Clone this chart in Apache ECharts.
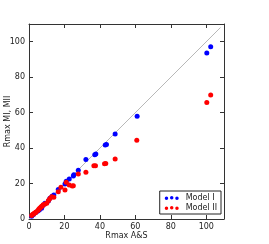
<!DOCTYPE html>
<html><head><meta charset="utf-8">
<script src="https://cdn.jsdelivr.net/npm/echarts@6/dist/echarts.min.js"></script>
<style>html,body{margin:0;padding:0;background:#fff}#c{width:269px;height:244px}</style>
</head><body><div id="c"></div>
<script>
const xTicks = [0, 20, 40, 60, 80, 100];
const yTicks = [0, 20, 40, 60, 80, 100];
const modelI = [
  [1.5,1.5],[2.5,2.5],[4,3.8],[5,4.5],[5.8,5.1],[7.1,6],[8,7.8],[9,8.9],[10.9,10.2],[11.8,11.7],
  [13,12.8],[14,13.6],[16.5,16.6],[20.3,19.8],[21,21.3],[22.7,22.6],[25,24.3],[25.3,25],
  [27.8,27.5],[32.1,33.5],[37.1,36.2],[37.7,36.7],[43,41.8],[43.7,42],[48.6,48],[61,58],
  [100.3,93.7],[102.5,97.1]
];
const modelII = [
  [1.5,2],[2,2.5],[2.5,2.8],[3,3.2],[3.5,3.5],[4,4],[5,4.8],[5.5,5.5],[6,6],[6.5,6.5],[7,7],
  [7.5,7.3],[8,8],[9,8.5],[10,8.9],[11,10.5],[11.8,11.5],[12.8,12.6],[14,12.2],[16.5,15.4],
  [18,17.9],[20.3,16.4],[21,20.7],[22.7,19.2],[24.4,18.6],[25,18.8],[27.8,25.4],[32.1,26.4],
  [36.6,30.1],[37.5,30.1],[42.6,31.1],[43.3,31.3],[48.6,33.9],[60.8,44.4],[100.3,65.7],[102.5,69.9]
];
const diagonal = [[0,0],[108,108]];
const dots = 'path://M0,3a2,2 0 1,0 4,0a2,2 0 1,0 -4,0M6,2.4a2,2 0 1,0 4,0a2,2 0 1,0 -4,0M12,3.2a2,2 0 1,0 4,0a2,2 0 1,0 -4,0';
const font = 'DejaVu Sans';
const ax = (pos, show, extra) => Object.assign({
  type: 'value', min: 0, max: 110, interval: 20, position: pos,
  axisLine: {show: true, onZero: false, lineStyle: {color: '#333', width: 1}},
  axisTick: {show: true, inside: true, length: 4, lineStyle: {color: '#333'}},
  axisLabel: {show: show, color: '#222', fontSize: 8, fontFamily: font, margin: 4,
    showMaxLabel: false, formatter: v => (v % 20 === 0 && v <= 100) ? String(v) : ''},
  splitLine: {show: false}
}, extra || {});
const chart = echarts.init(document.getElementById('c'));
chart.setOption({
  animation: false,
  grid: {left: 29, top: 24, right: 45, bottom: 25, containLabel: false, outerBoundsMode: 'none'},
  xAxis: [
    ax('bottom', true, {name: 'Rmax A&S', nameLocation: 'middle', nameGap: 13, nameMoveOverlap: false,
      nameTextStyle: {fontSize: 8, fontFamily: font, color: '#222'}}),
    ax('top', false)
  ],
  yAxis: [
    ax('left', true, {name: 'Rmax MI, MII', nameLocation: 'middle', nameGap: 17, nameMoveOverlap: false,
      nameTextStyle: {fontSize: 8, fontFamily: font, color: '#222'}}),
    ax('right', false)
  ],
  legend: {
    right: 48, bottom: 30, orient: 'vertical', itemWidth: 14, itemHeight: 5, itemGap: 2,
    padding: [3, 4, 2, 5], borderColor: '#222', borderWidth: 1, backgroundColor: '#fff',
    textStyle: {fontSize: 8, fontFamily: font, color: '#222', padding: [0, 0, 0, 2]},
    data: [{name: 'Model I', icon: dots}, {name: 'Model II', icon: dots}]
  },
  series: [
    {type: 'line', data: diagonal, showSymbol: false, silent: true,
      lineStyle: {color: '#b8b8b8', width: 1}, z: 1},
    {name: 'Model I', type: 'scatter', data: modelI, symbolSize: 5,
      itemStyle: {color: '#0000ff', opacity: 1}, z: 3},
    {name: 'Model II', type: 'scatter', data: modelII, symbolSize: 5,
      itemStyle: {color: '#ff0000', opacity: 1}, z: 4}
  ]
});
</script></body></html>
